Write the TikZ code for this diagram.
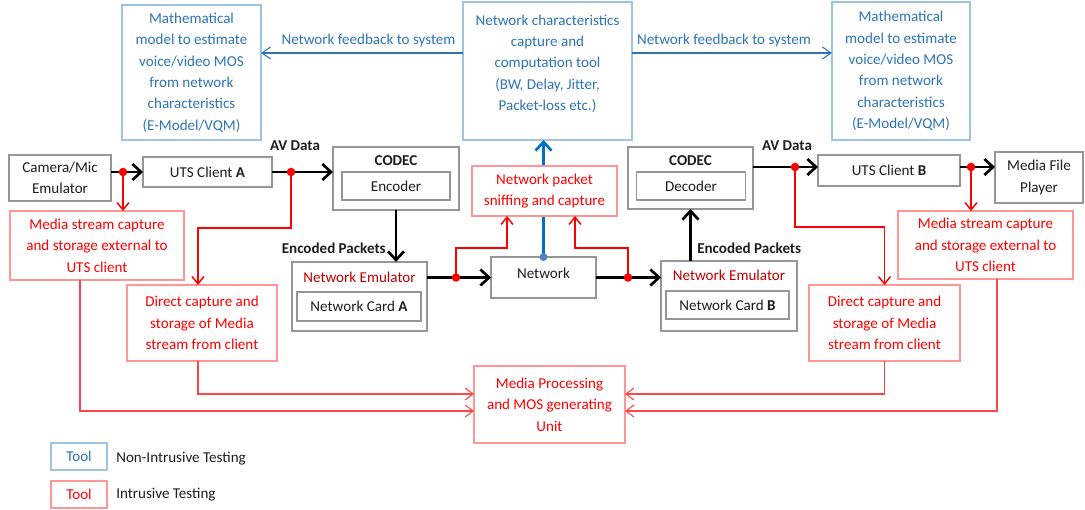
\documentclass[tikz,border=0pt]{standalone}
\usepackage{fontspec}
\setmainfont{Carlito}
\usetikzlibrary{arrows.meta,calc}

\definecolor{blueT}{RGB}{46,117,182}
\definecolor{blueB}{RGB}{157,195,230}
\definecolor{blueL}{RGB}{0,112,192}
\definecolor{blueD}{RGB}{84,130,197}
\definecolor{redT}{RGB}{255,0,0}
\definecolor{redB}{RGB}{255,150,150}
\definecolor{redL}{RGB}{255,70,70}
\definecolor{darkredT}{RGB}{192,0,0}
\definecolor{grayB}{RGB}{150,150,150}
\definecolor{textK}{RGB}{30,30,30}

\tikzset{
  every node/.style={font=\fontsize{11.3}{16}\selectfont},
  sz/.style 2 args={minimum width=#1*0.75pt, minimum height=#2*0.75pt},
  boxbase/.style={inner sep=0pt, outer sep=0pt, align=center, fill=white, line width=0.8pt},
  boxg/.style={boxbase, draw=grayB, text=textK},
  boxb/.style={boxbase, draw=blueB, text=blueT},
  boxr/.style={boxbase, draw=redB, text=redT},
  boldlbl/.style={font=\fontsize{11.3}{16}\selectfont\bfseries, text=textK, inner sep=0pt},
  blk/.style={line width=2pt, draw=black, -{Straight Barb[length=6.5pt,width=12pt]}},
  redarr/.style={line width=1.1pt, draw=redT, -{Straight Barb[length=5.5pt,width=9pt]}},
  redthin/.style={line width=0.8pt, draw=redL, -{Straight Barb[length=6pt,width=9pt]}},
  bluethin/.style={line width=0.8pt, draw=blueT, -{Straight Barb[length=6.5pt,width=9pt]}},
  bluethick/.style={line width=2pt, draw=blueL, -{Straight Barb[length=6.5pt,width=12pt]}},
  rdot/.style={fill=redT},
}

\begin{document}
\begin{tikzpicture}[x=0.75pt, y=-0.75pt]
\useasboundingbox (0,0) rectangle (1085,510);
\fill[white] (0,0) rectangle (1085,510);

% --- non-intrusive analysis (top row)
\node[boxb, sz={139}{135}] (mL) at (191.5,72.5)
  {Mathematical\\model to estimate\\voice/video MOS\\from network\\characteristics\\(E-Model/VQM)};
\node[boxb, sz={169}{138}, text depth=12.5pt] (nct) at (547.5,71)
  {Network characteristics\\capture and\\computation tool\\(BW, Delay, Jitter,\\Packet-loss etc.)};
\node[boxb, sz={138}{138}] (mR) at (901,71)
  {Mathematical\\model to estimate\\voice/video MOS\\from network\\characteristics\\(E-Model/VQM)};

% --- main media path
\node[boxg, sz={102}{46}] (cam) at (60,178) {Camera/Mic\\Emulator};
\node[boxg, sz={129}{30}] (utsA) at (207.5,172) {UTS Client \textbf{A}};
\node[boxg, sz={126}{63}] (codA) at (396,178.5) {};
\node[boldlbl] (codAl) at (396,161) {CODEC};
\node[boxg, sz={108}{28}] (enc) at (396,186) {Encoder};

\node[boxg, sz={135}{69}] (neA) at (359.5,296.5) {};
\node[inner sep=0pt, text=darkredT] (neAl) at (359.5,277) {Network Emulator};
\node[boxg, sz={124}{29}] (ncA) at (359,306.5) {Network Card \textbf{A}};

\node[boxg, sz={105}{41}, text depth=7pt] (net) at (543.5,277.5) {Network};

\node[boxg, sz={125}{62}] (codB) at (690.5,178) {};
\node[boldlbl] (codBl) at (690.5,161) {CODEC};
\node[boxg, sz={109}{28}] (dec) at (691,186) {Decoder};

\node[boxg, sz={136}{70}] (neB) at (729,296) {};
\node[inner sep=0pt, text=darkredT] (neBl) at (729,275) {Network Emulator};
\node[boxg, sz={123}{28}] (ncB) at (727.5,305) {Network Card \textbf{B}};

\node[boxg, sz={142}{31}] (utsB) at (889,170.5) {UTS Client \textbf{B}};
\node[boxg, sz={88}{51}] (mfp) at (1039,177.5) {Media File\\Player};

% --- intrusive capture units
\node[boxr, sz={174}{69}] (msL) at (97,245.5)
  {Media stream capture\\and storage external to\\UTS client};
\node[boxr, sz={150}{76}] (dcL) at (202,323)
  {Direct capture and\\storage of Media\\stream from client};
\node[boxr, sz={151}{77}] (mp) at (549.5,404.5)
  {Media Processing\\and MOS generating\\Unit};
\node[boxr, sz={151}{76}] (dcR) at (884.5,323)
  {Direct capture and\\storage of Media\\stream from client};
\node[boxr, sz={175}{68}] (msR) at (985.5,245)
  {Media stream capture\\and storage external to\\UTS client};

% --- legend
\node[boxb, sz={56}{27}] (lgB) at (79,456.5) {Tool};
\node[boxr, sz={56}{27}] (lgR) at (79,494.5) {Tool};
\node[anchor=west, inner sep=0pt, text=textK] (lgBt) at (116,459) {Non-Intrusive Testing};
\node[anchor=west, inner sep=0pt, text=textK] (lgRt) at (116,495) {Intrusive Testing};

% --- network feedback
\draw[bluethin] ($(nct.west)+(0,-18)$) coordinate (fbL) -- (fbL -| mL.east);
\node[inner sep=0pt, text=blueT] (fbLl) at (368.5,40) {Network feedback to system};
\draw[bluethin] ($(nct.east)+(0,-18)$) coordinate (fbR) -- (fbR -| mR.west);
\node[inner sep=0pt, text=blueT] (fbRl) at (724,40) {Network feedback to system};

% --- non-intrusive tap on the network (passes behind the sniffing box)
\draw[bluethick] (net.north) -- (net.north |- nct.south);
\fill[blueD] (net.north) circle (3pt);
\node[boxr, sz={145}{50}] (sniff) at (544.5,191)
  {Network packet\\sniffing and capture};

% --- media data flow
\coordinate (d1) at (123,172);
\coordinate (d2) at (291,172);
\draw[blk] (cam.east |- utsA.west) -- (utsA.west);
\draw[blk] (utsA.east) -- (utsA.east -| codA.west);
\node[boldlbl] (avA) at (295,146) {AV Data};
\draw[blk] (codA.south) -- (codA.south |- neA.north);
\node[boldlbl, anchor=east] (epA) at (386,248) {Encoded Packets};

\coordinate (d3) at (456,277.5);
\coordinate (d4) at (628,277.5);
\draw[blk] (neA.east |- net.west) -- (net.west);
\draw[blk] (net.east) -- (net.east -| neB.west);

\draw[blk] (codB.south |- neB.north) -- (codB.south);
\node[boldlbl, anchor=west] (epB) at (697,248) {Encoded Packets};

\coordinate (d5) at (795,167);
\coordinate (d6) at (971,167);
\draw[blk] ($(codB.east)+(0,-11)$) coordinate (cbo) -- (cbo -| utsB.west);
\node[boldlbl] (avB) at (787,146) {AV Data};
\draw[blk] (utsB.east |- d6) -- (d6 -| mfp.west);

% --- intrusive taps
\draw[redarr] (d1) -- (d1 |- msL.north);
\draw[redarr] (d2) -- ++(0,56) -| ($(dcL.north)+(-4,0)$);
\draw[redarr] (d3) -- ++(0,-29.5) -| ($(sniff.south)+(-37.5,0)$);
\draw[redarr] (d4) -- ++(0,-29.5) -| ($(sniff.south)+(30.5,0)$);
\draw[redarr] (d5) -- ++(0,60) -| (dcR.north);
\draw[redarr] (d6) -- (d6 |- msR.north);
\foreach \d in {d1,d2,d3,d4,d5,d6} \fill[rdot] (\d) circle (3.2pt);

% --- captured streams to the processing unit
\draw[redthin] ($(msL.south)+(-17,0)$) |- ($(mp.west)+(0,6.5)$);
\draw[redthin] ($(dcL.south)+(-4,0)$) |- ($(mp.west)+(0,-10.5)$);
\draw[redthin] (dcR.south) |- ($(mp.east)+(0,-10.5)$);
\draw[redthin] ($(msR.south)+(11.5,0)$) |- ($(mp.east)+(0,6.5)$);
\end{tikzpicture}
\end{document}
